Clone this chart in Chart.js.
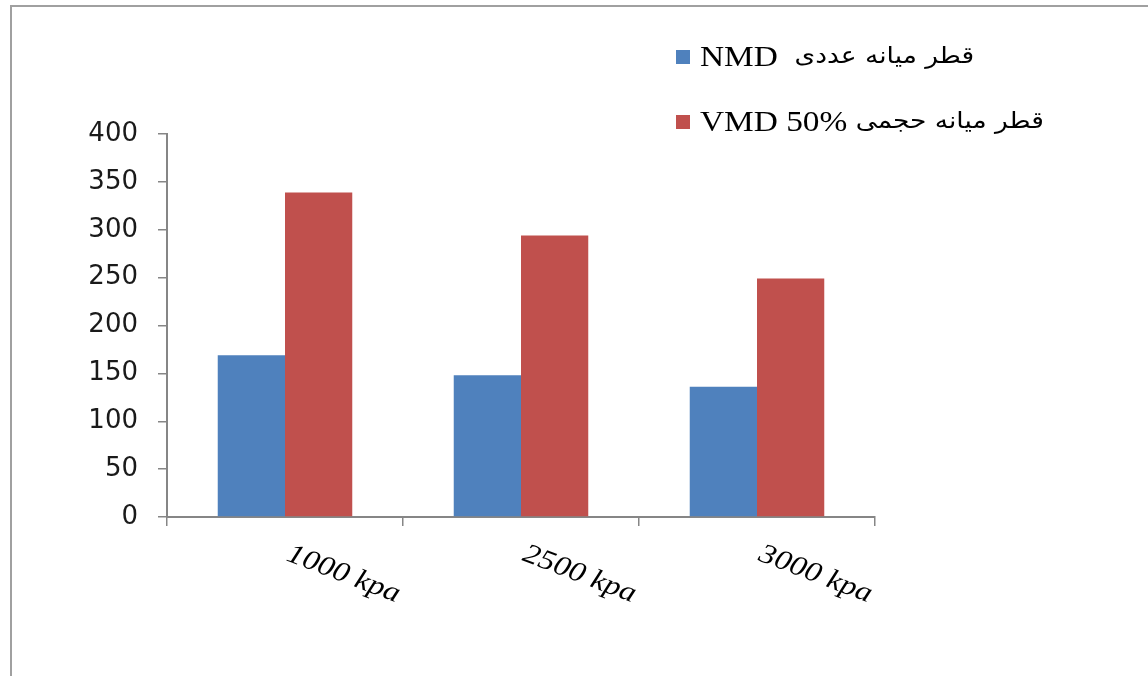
<!DOCTYPE html>
<html>
<head>
<meta charset="utf-8">
<script src="https://cdn.jsdelivr.net/npm/chart.js@4.4.0/dist/chart.umd.min.js"></script>
<style>
  html, body { margin: 0; padding: 0; background: #fff; overflow: hidden; }
  #frame { position: absolute; left: 10px; top: 5px; width: 1200px; height: 720px; border: 2px solid #a0a0a0; }
  #wrap { position: absolute; left: 0; top: 0; width: 1148px; height: 676px; }
</style>
</head>
<body>
<div id="frame"></div>
<div id="wrap"><canvas id="pressureChart"></canvas></div>
<script>
const categories = ['1000 kpa', '2500 kpa', '3000 kpa'];
const nmdValues = [169, 148, 136];
const vmdValues = [339, 294, 249];
const seriesLabels = ['NMD  قطر میانه عددی', 'VMD 50% قطر میانه حجمی'];
const yTicks = [0, 50, 100, 150, 200, 250, 300, 350, 400];

const axisGray = '#868686';

// legend in the upper right, above the plot; latin part in serif, persian part in DejaVu
const legendBoxes = {
    id: 'legendBoxes',
    afterDraw(chart) {
        const ctx = chart.ctx;
        ctx.save();
        ctx.textBaseline = 'middle';
        ctx.textAlign = 'left';
        ctx.direction = 'ltr';
        chart.data.datasets.forEach((ds, i) => {
            const y = 57 + i * 65;
            ctx.fillStyle = ds.backgroundColor;
            ctx.fillRect(676, y - 7, 14, 14);

            const cut = ds.label.search(/[\u0600-\u06FF]/);
            const latin = ds.label.slice(0, cut);
            const persian = ds.label.slice(cut);

            ctx.save();
            ctx.translate(700, y);
            ctx.scale(1.15, 1);
            ctx.fillStyle = '#000';
            ctx.font = "29px 'Liberation Serif'";
            ctx.fillText(latin, 0, 1);
            const w = ctx.measureText(latin).width;
            ctx.font = "23px 'DejaVu Sans'";
            ctx.fillText(persian, w, 0);
            ctx.restore();
        });
        ctx.restore();
    }
};

// category labels slanted downwards under each group
const slantedLabels = {
    id: 'slantedLabels',
    afterDraw(chart) {
        const ctx = chart.ctx;
        const xs = chart.scales.x;
        ctx.save();
        ctx.font = "italic 28px 'Liberation Serif'";
        ctx.fillStyle = '#000';
        ctx.textBaseline = 'top';
        ctx.textAlign = 'left';
        categories.forEach((label, i) => {
            ctx.save();
            ctx.translate(xs.getPixelForValue(i) + 8, xs.top + 23);
            ctx.rotate(21 * Math.PI / 180);
            ctx.scale(1.15, 1);
            ctx.fillText(label, 0, 0);
            ctx.restore();
        });
        ctx.restore();
    }
};

const ctx = document.getElementById('pressureChart').getContext('2d');
const pressureChart = new Chart(ctx, {
    type: 'bar',
    data: {
        labels: categories,
        datasets: [{
            label: seriesLabels[0],
            data: nmdValues,
            backgroundColor: '#4F81BD',
            borderWidth: 0,
            categoryPercentage: 0.57,
            barPercentage: 1.0
        }, {
            label: seriesLabels[1],
            data: vmdValues,
            backgroundColor: '#C0504D',
            borderWidth: 0,
            categoryPercentage: 0.57,
            barPercentage: 1.0
        }]
    },
    options: {
        responsive: true,
        maintainAspectRatio: false,
        animation: false,
        layout: {
            padding: { top: 134, right: 273, bottom: 0, left: 0 }
        },
        plugins: {
            legend: { display: false },
            tooltip: { enabled: false }
        },
        scales: {
            x: {
                grid: { drawOnChartArea: false, color: axisGray, lineWidth: 1.5, tickLength: 9, offset: true },
                border: { color: axisGray, width: 2 },
                ticks: { display: false },
                afterFit: s => { s.height = 676 - 517; }
            },
            y: {
                min: 0,
                max: 400,
                afterBuildTicks: s => { s.ticks = yTicks.map(v => ({ value: v })); },
                ticks: {
                    padding: 20,
                    color: '#1a1a1a',
                    font: { family: 'DejaVu Sans', size: 26 }
                },
                grid: { drawOnChartArea: false, color: axisGray, lineWidth: 1.5, tickLength: 9 },
                border: { color: axisGray, width: 2 },
                afterFit: s => { s.width = 167; }
            }
        }
    },
    plugins: [legendBoxes, slantedLabels]
});
</script>
</body>
</html>
